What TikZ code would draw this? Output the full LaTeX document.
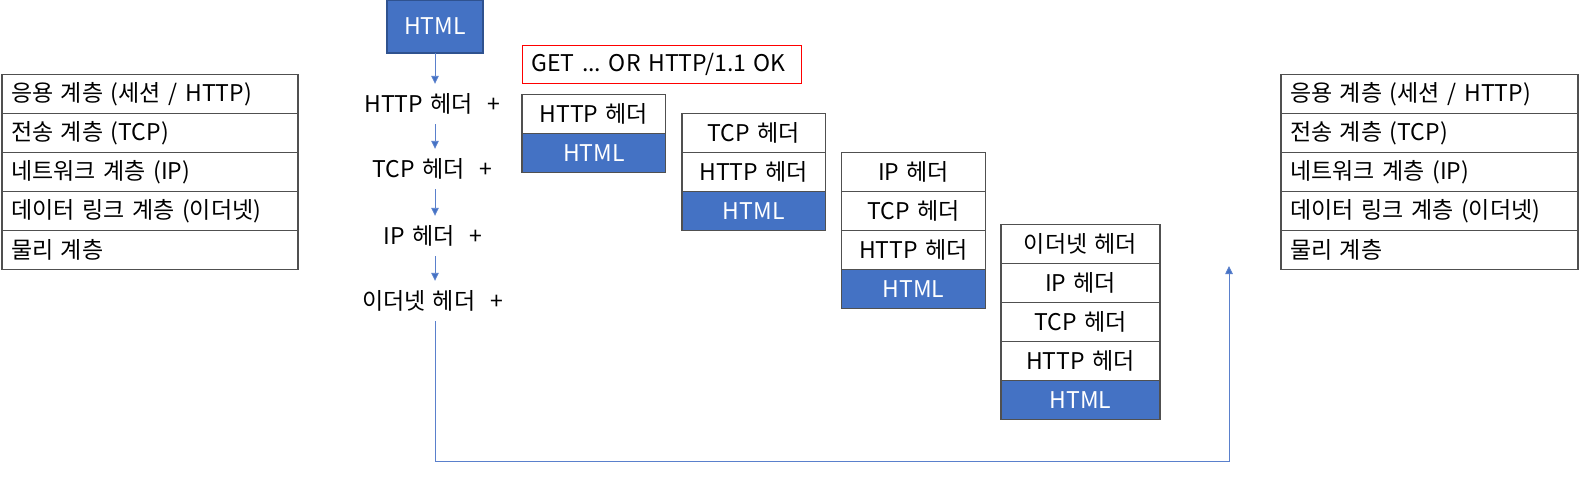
\documentclass[tikz,border=0pt]{standalone}
\usepackage{fontspec}
\setmainfont{Noto Sans CJK KR}
\usetikzlibrary{arrows.meta}
\definecolor{hblue}{HTML}{4472C4}
\definecolor{hborder}{HTML}{2F528F}
\definecolor{cellline}{HTML}{505050}
\definecolor{conn}{HTML}{5A80CC}
\frenchspacing
\newcommand\widesp{\spaceskip=7.4pt plus 2pt minus 1pt\relax}
\begin{document}
\begin{tikzpicture}[x=1pt,y=-1pt,
  font={\fontsize{23}{27}\selectfont\widesp},
  cell/.style={draw=cellline, line width=1.3pt, fill=white, outer sep=0pt, inner sep=0pt,
               minimum height=39pt, anchor=north west, text=black},
  bluecell/.style={cell, fill=hblue, text=white},
  rowcell/.style={cell, inner xsep=9pt, text width=#1, align=left},
  lbl/.style={inner sep=0pt, minimum height=40pt, text=black},
  arr/.style={draw=conn, line width=0.9pt, -{Triangle[length=8pt,width=7.5pt,fill=hblue]}},
  redbox/.style={draw=red, line width=1.1pt, outer sep=0pt, inner xsep=9pt, inner ysep=0pt,
                 minimum height=38pt, text width=261pt, align=left, anchor=north west}
]
\useasboundingbox (0,0) rectangle (1580,490);

% left layer table
\node[rowcell=278pt] (la) at (2,74.7) {응용 계층 (세션 / HTTP)};
\node[rowcell=278pt] (lb) at (la.south west) {전송 계층 (TCP)};
\node[rowcell=278pt] (lc) at (lb.south west) {네트워크 계층 (IP)};
\node[rowcell=278pt] (ld) at (lc.south west) {데이터 링크 계층 (이더넷)};
\node[rowcell=278pt] (le) at (ld.south west) {물리 계층};

% right layer table
\node[rowcell=279pt] (ra) at (1281,74.7) {응용 계층 (세션 / HTTP)};
\node[rowcell=279pt] (rb) at (ra.south west) {전송 계층 (TCP)};
\node[rowcell=279pt] (rc) at (rb.south west) {네트워크 계층 (IP)};
\node[rowcell=279pt] (rd) at (rc.south west) {데이터 링크 계층 (이더넷)};
\node[rowcell=279pt] (re) at (rd.south west) {물리 계층};

% HTML source box
\node[bluecell, draw=hborder, minimum width=96pt, minimum height=53pt] (html) at (387,0) {HTML};

% labels
\node[lbl] (l1) at (432.5,104) {HTTP 헤더~~+};
\node[lbl] (l2) at (432.5,169) {TCP 헤더~~+};
\node[lbl] (l3) at (433,236) {IP 헤더~~+};
\node[lbl] (l4) at (432.5,301) {이더넷 헤더~~+};

\draw[arr] (html.south) -- (l1.north -| html.south);
\draw[arr] (l1.south -| html.south) -- (l2.north -| html.south);
\draw[arr] (l2.south -| html.south) -- (l3.north -| html.south);
\draw[arr] (l3.south -| html.south) -- (l4.north -| html.south);

\coordinate (turn) at (1229,461);
\coordinate (up) at (1229,266);
\draw[arr] (l4.south -| html.south) |- (turn) -- (up);

% red message box
\node[redbox] (msg) at (522.3,45.3) {GET ... OR HTTP/1.1 OK};

% stack 1
\node[cell, minimum width=143.7pt] (s1a) at (522,94.3) {HTTP 헤더};
\node[bluecell, minimum width=143.7pt] (s1b) at (s1a.south west) {HTML};

% stack 2
\node[cell, minimum width=143.3pt] (s2a) at (682,113.7) {TCP 헤더};
\node[cell, minimum width=143.3pt] (s2b) at (s2a.south west) {HTTP 헤더};
\node[bluecell, minimum width=143.3pt] (s2c) at (s2b.south west) {HTML};

% stack 3
\node[cell, minimum width=143.6pt] (s3a) at (841.7,152.7) {IP 헤더};
\node[cell, minimum width=143.6pt] (s3b) at (s3a.south west) {TCP 헤더};
\node[cell, minimum width=143.6pt] (s3c) at (s3b.south west) {HTTP 헤더};
\node[bluecell, minimum width=143.6pt] (s3d) at (s3c.south west) {HTML};

% stack 4
\node[cell, minimum width=159pt] (s4a) at (1001,224.7) {이더넷 헤더};
\node[cell, minimum width=159pt] (s4b) at (s4a.south west) {IP 헤더};
\node[cell, minimum width=159pt] (s4c) at (s4b.south west) {TCP 헤더};
\node[cell, minimum width=159pt] (s4d) at (s4c.south west) {HTTP 헤더};
\node[bluecell, minimum width=159pt] (s4e) at (s4d.south west) {HTML};
\end{tikzpicture}
\end{document}
